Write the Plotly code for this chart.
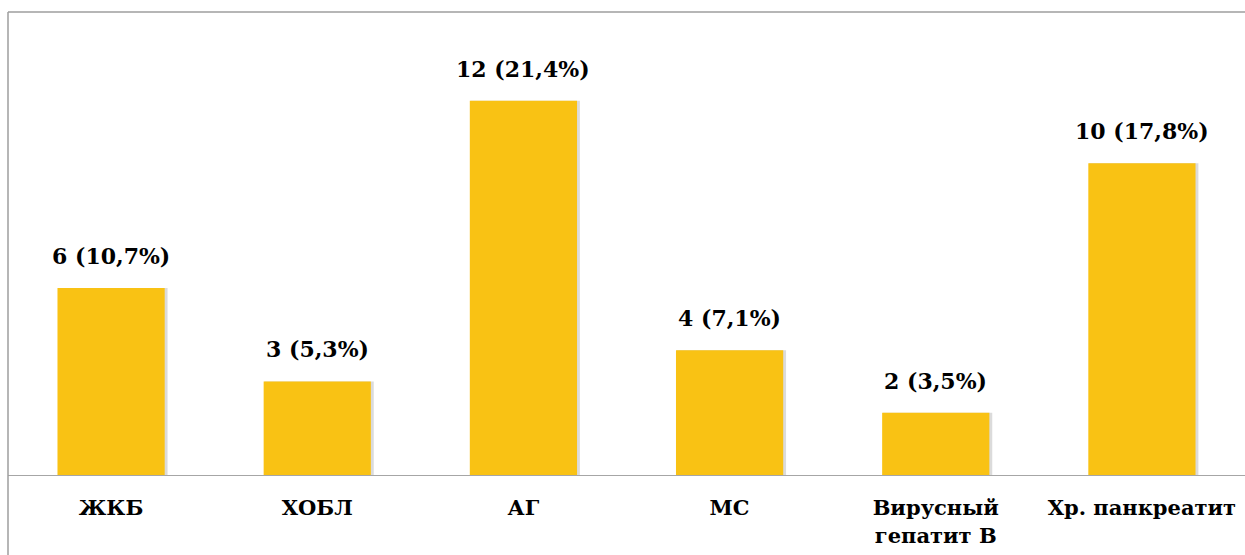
import plotly.graph_objects as go

categories = ["ЖКБ", "ХОБЛ", "АГ", "МС", "Вирусный<br>гепатит В", "Хр. панкреатит"]
counts = [6, 3, 12, 4, 2, 10]
percents = ["10,7%", "5,3%", "21,4%", "7,1%", "3,5%", "17,8%"]

labels = [f"{c} ({p})" for c, p in zip(counts, percents)]

FONT = "DejaVu Serif"

fig = go.Figure()
# soft shadow behind bars
fig.add_trace(go.Bar(
    x=categories, y=counts,
    marker=dict(color="rgba(90,90,90,0.22)", line=dict(width=0)),
    width=0.53, offset=-0.256,
    hoverinfo="skip",
))
fig.add_trace(go.Bar(
    x=categories, y=counts,
    marker=dict(color="#F9C214", line=dict(width=0)),
    width=0.52, offset=-0.26,
    hoverinfo="skip",
))

for cat, val, lab in zip(categories, counts, labels):
    fig.add_annotation(
        x=cat, y=val, text=lab, showarrow=False,
        yanchor="bottom", yshift=17,
        font=dict(family=FONT, size=22, color="#000000", weight="bold"),
    )

fig.update_layout(
    width=1245, height=555,
    margin=dict(l=8, r=0, t=12, b=80),
    paper_bgcolor="white", plot_bgcolor="white",
    showlegend=False,
    barmode="overlay",
    font=dict(family=FONT),
    xaxis=dict(
        showline=True, linecolor="#A6A6A6", linewidth=1,
        showgrid=False, ticks="",
        ticklabelstandoff=14,
        tickfont=dict(family=FONT, size=21, color="#000000", weight="bold"),
        tickvals=categories,
        ticktext=categories,
    ),
    yaxis=dict(range=[0, 14.85], visible=False, showgrid=False),
    shapes=[
        dict(type="line", xref="paper", yref="paper", x0=0, x1=1.05, y0=1, y1=1,
             line=dict(color="#9E9E9E", width=1.5)),
        dict(type="line", xref="paper", yref="paper", x0=0, x1=0, y0=1, y1=-0.3,
             line=dict(color="#9E9E9E", width=1.5)),
    ],
)

fig.write_html("out.html")
